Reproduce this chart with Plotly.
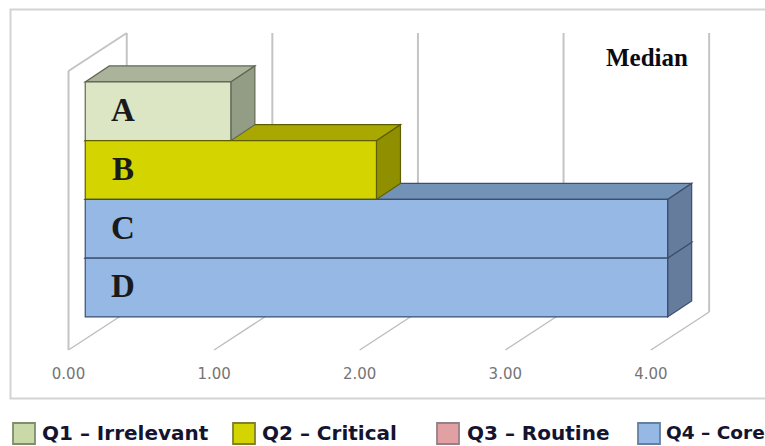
import plotly.graph_objects as go

# Chart data
categories = ["A", "B", "C", "D"]
medians = [1.0, 2.0, 4.0, 4.0]
tick_values = [0, 1, 2, 3, 4]
tick_labels = ["0.00", "1.00", "2.00", "3.00", "4.00"]
legend_labels = ["Q1 – Irrelevant", "Q2 – Critical", "Q3 – Routine", "Q4 – Core"]

# Face colours per category
front_colors = ["#DCE6C5", "#D4D400", "#95B8E4", "#95B8E4"]
top_colors = ["#ABB49B", "#A8A800", "#7392B8", "#7392B8"]
side_colors = ["#939C84", "#8F8F00", "#657C9C", "#657C9C"]
edge_colors = ["#5F6754", "#5E5E00", "#3C4E6C", "#3C4E6C"]
legend_colors = ["#C9D9A8", "#D4D400", "#E0A0A4", "#95B8E4"]
legend_edges = ["#7F8C70", "#808030", "#968088", "#64809F"]

# Layout of the pseudo-3D box, in axis units
W, H = 765, 446
X_RANGE = [-68.5 / 145.6, (W - 68.5) / 145.6]
Y_RANGE = [(H - 111.25) / 58.75, -111.25 / 58.75]
FLOOR_Y = 4.064
WALL_TOP_Y = -0.685
BOX_DX, BOX_DY = 0.40, -0.647
BAR_OFFSET = 0.115
BAR_DX, BAR_DY = 0.165, -0.272
GRID = "#C4C4C4"

positions = list(range(len(categories)))
shapes = []


def seg(x0, y0, x1, y1, color=GRID, width=2):
    shapes.append(dict(type="line", xref="x", yref="y", x0=x0, y0=y0, x1=x1, y1=y1,
                       layer="below", line=dict(color=color, width=width)))


def poly(points, fill, edge):
    path = "M " + " L ".join(f"{x:.4f},{y:.4f}" for x, y in points) + " Z"
    shapes.append(dict(type="path", xref="x", yref="y", path=path, layer="below",
                       fillcolor=fill, line=dict(color=edge, width=1.2)))


# Back wall, floor and left wall guides
for t in tick_values:
    seg(t + BOX_DX, WALL_TOP_Y + BOX_DY, t + BOX_DX, FLOOR_Y + BOX_DY)
    seg(t, FLOOR_Y, t + BOX_DX, FLOOR_Y + BOX_DY, color="#BDBDBD", width=1.4)
seg(tick_values[0], WALL_TOP_Y, tick_values[0], FLOOR_Y)
seg(tick_values[0], WALL_TOP_Y, tick_values[0] + BOX_DX, WALL_TOP_Y + BOX_DY)

# Top and side faces, back to front so upper bars cover lower tops
for i in reversed(positions):
    x0 = BAR_OFFSET
    x1 = BAR_OFFSET + medians[i]
    yt, yb = i - 0.5, i + 0.5
    poly([(x0, yt), (x1, yt), (x1 + BAR_DX, yt + BAR_DY), (x0 + BAR_DX, yt + BAR_DY)],
         top_colors[i], edge_colors[i])
    poly([(x1, yt), (x1 + BAR_DX, yt + BAR_DY), (x1 + BAR_DX, yb + BAR_DY), (x1, yb)],
         side_colors[i], edge_colors[i])

# Outer frame
shapes.append(dict(type="rect", xref="paper", yref="paper",
                   x0=10.5 / W, x1=1.02, y0=1 - 398.5 / H, y1=1 - 9.5 / H,
                   layer="below", line=dict(color="#D4D4D4", width=2)))

annotations = []

# Category letters inside the bars
for i, name in enumerate(categories):
    annotations.append(dict(x=BAR_OFFSET + 0.26, y=i - 0.02, xref="x", yref="y", text=f"<b>{name}</b>",
                            showarrow=False, xanchor="center", yanchor="middle",
                            font=dict(family="Liberation Serif", size=33, color="#1A1A1A")))

annotations.append(dict(x=647 / W, y=1 - 57 / H, xref="paper", yref="paper", text="<b>Median</b>",
                        showarrow=False, xanchor="center", yanchor="middle",
                        font=dict(family="Liberation Serif", size=25, color="#0A0A14")))

# Legend row along the bottom edge
swatch_lefts = [13, 233, 437, 638]
text_lefts = [42, 262, 467, 666]
text_sizes = [20, 20, 20, 18.5]
for label, color, edge, sx, tx, size in zip(legend_labels, legend_colors, legend_edges,
                                            swatch_lefts, text_lefts, text_sizes):
    shapes.append(dict(type="rect", xref="paper", yref="paper",
                       x0=sx / W, x1=(sx + 22) / W, y0=1 - 444 / H, y1=1 - 423 / H,
                       fillcolor=color, line=dict(color=edge, width=1.8)))
    annotations.append(dict(x=tx / W, y=1 - 432.5 / H, xref="paper", yref="paper", text=f"<b>{label}</b>",
                            showarrow=False, xanchor="left", yanchor="middle", xshift=-2,
                            font=dict(family="DejaVu Sans", size=size, color="#14142F")))

fig = go.Figure(go.Bar(
    x=medians,
    y=positions,
    base=BAR_OFFSET,
    orientation="h",
    width=1,
    marker=dict(color=front_colors, line=dict(color=edge_colors, width=1.2)),
    showlegend=False,
))

fig.update_layout(
    width=W,
    height=H,
    margin=dict(l=0, r=0, t=0, b=0),
    paper_bgcolor="white",
    plot_bgcolor="white",
    shapes=shapes,
    annotations=annotations,
    showlegend=False,
    xaxis=dict(
        range=X_RANGE, domain=[0, 1], anchor="free", position=1 - 350 / H,
        tickmode="array", tickvals=tick_values, ticktext=tick_labels,
        showgrid=False, zeroline=False, showline=False, ticks="", ticklabelstandoff=13,
        tickfont=dict(family="DejaVu Sans", size=15, color="#757575"),
    ),
    yaxis=dict(range=Y_RANGE, domain=[0, 1], showgrid=False, zeroline=False,
               showline=False, showticklabels=False, ticks=""),
)

fig.write_html("out.html", config={"displayModeBar": False})
